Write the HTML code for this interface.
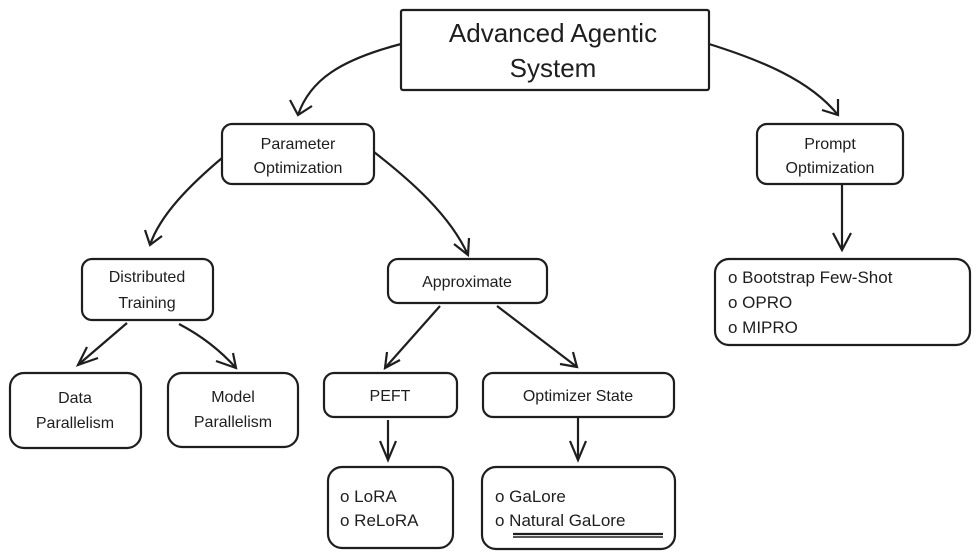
<!DOCTYPE html>
<html><head><meta charset="utf-8"><style>
html,body{margin:0;padding:0;background:#fff;}
svg{display:block}
text{font-family:"Liberation Sans","DejaVu Sans",sans-serif;fill:#1e1e1e;}
</style></head><body>
<svg width="979" height="559" viewBox="0 0 979 559" xmlns="http://www.w3.org/2000/svg">
<g fill="none" stroke="#1e1e1e" stroke-width="2.2">
<rect x="401" y="10" width="308" height="80" rx="2"/>
<rect x="222" y="124" width="152" height="60" rx="10"/>
<rect x="757" y="124" width="146" height="60" rx="10"/>
<rect x="82" y="259" width="131" height="61" rx="10"/>
<rect x="388" y="259" width="159" height="44" rx="10"/>
<rect x="715" y="259" width="255" height="86" rx="14"/>
<rect x="10" y="373" width="131" height="75" rx="14"/>
<rect x="168" y="373" width="130" height="74" rx="14"/>
<rect x="324" y="373" width="133" height="44" rx="10"/>
<rect x="483" y="373" width="191" height="44" rx="10"/>
<rect x="328" y="467" width="125" height="81" rx="14"/>
<rect x="482" y="467" width="193" height="82" rx="14"/>
<path d="M401 44 C340 60 310 80 298 115"/><path d="M290 100 L298 115 L312 106"/>
<path d="M709 44 C760 60 810 80 838 115"/><path d="M822 110 L838 115 L838 99"/>
<path d="M222 158 C190 185 160 215 150 245"/><path d="M145 230 L150 245 L162 236"/>
<path d="M374 152 C410 180 450 215 468 255"/><path d="M454 244 L468 255 L469 238"/>
<path d="M842 184 L842 250"/><path d="M833 233 L842 250 L851 233"/>
<path d="M127 323 L78 365"/><path d="M87 347 L78 365 L98 358"/>
<path d="M179 324 C200 335 220 350 236 368"/><path d="M216 361 L236 368 L233 353"/>
<path d="M440 306 L385 368"/><path d="M387 352 L385 368 L400 360"/>
<path d="M497 306 L577 367"/><path d="M560 364 L577 367 L573 352"/>
<path d="M388 420 L388 460"/><path d="M380 441 L388 460 L396 441"/>
<path d="M578 418 L578 460"/><path d="M570 441 L578 460 L586 441"/>
<path d="M513 534 L663 534"/><path d="M513 537 L663 537" stroke-width="1.5"/>
</g>
<g font-size="26" text-anchor="middle">
<text x="553" y="42">Advanced Agentic</text>
<text x="553" y="77">System</text>
</g>
<g font-size="16" text-anchor="middle">
<text x="298" y="149">Parameter</text>
<text x="298" y="173">Optimization</text>
<text x="830" y="149">Prompt</text>
<text x="830" y="173">Optimization</text>
<text x="147" y="282">Distributed</text>
<text x="147" y="308">Training</text>
<text x="467" y="287">Approximate</text>
<text x="75" y="403">Data</text>
<text x="75" y="428">Parallelism</text>
<text x="233" y="402">Model</text>
<text x="233" y="427">Parallelism</text>
<text x="390" y="401">PEFT</text>
<text x="578" y="401">Optimizer State</text>
</g>
<g font-size="17">
<text x="728" y="283">o Bootstrap Few-Shot</text>
<text x="728" y="308">o OPRO</text>
<text x="728" y="333">o MIPRO</text>
<text x="340" y="502">o LoRA</text>
<text x="340" y="526">o ReLoRA</text>
<text x="495" y="502">o GaLore</text>
<text x="495" y="526">o Natural GaLore</text>
</g>
</svg>
</body></html>
